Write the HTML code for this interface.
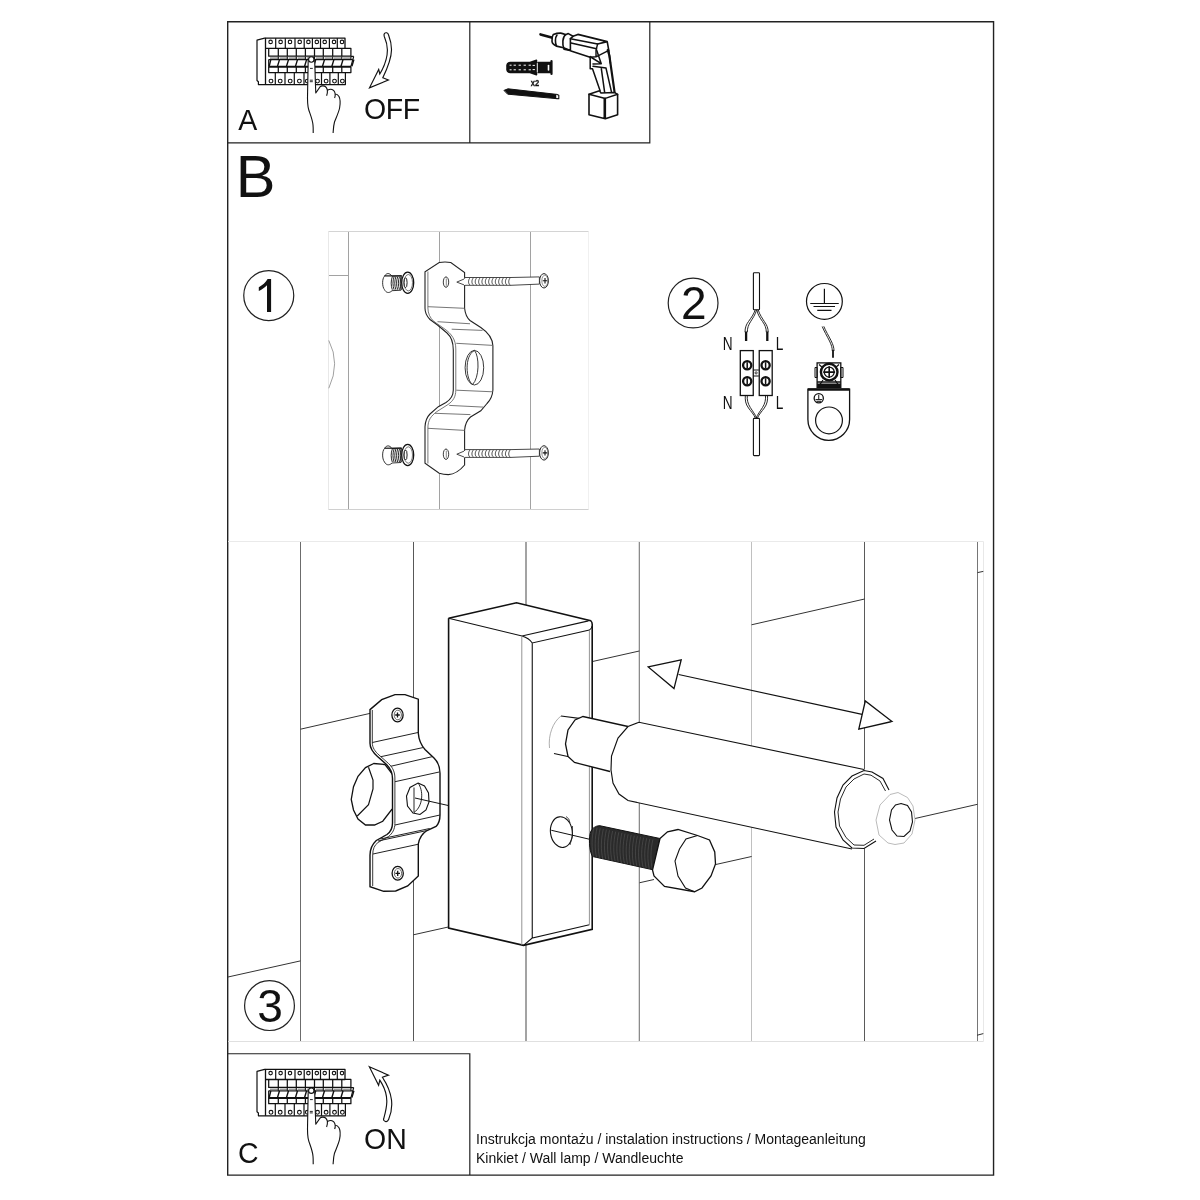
<!DOCTYPE html>
<html><head><meta charset="utf-8">
<style>
html,body{margin:0;padding:0;background:#fff;width:1200px;height:1200px;overflow:hidden}
svg{position:absolute;left:0;top:0}
text{font-family:"Liberation Sans",sans-serif;fill:#111}
svg{will-change:transform}
</style></head><body>
<svg width="1200" height="1200" viewBox="0 0 1200 1200">
<g id="frame" fill="none" stroke="#222" stroke-width="1.4">
<path d="M227.7 21.8H993.55V1175.1H227.7Z"/>
<path d="M227.7 142.85H649.8V21.8M469.8 21.8V142.85" stroke-width="1.2"/>
<path d="M227.7 1053.76H469.82V1175.1" stroke-width="1.2"/>
</g>
<g fill="none" stroke="#222" stroke-width="1.2">
<circle cx="268.75" cy="295.6" r="25"/>
<circle cx="693.1" cy="303" r="24.9"/>
<circle cx="269.5" cy="1005.6" r="24.9"/>
</g>
<path d="M271.1 279.1V312H267V285.3C264.6 287.8 261.6 289.8 258.8 291V287.2C262.5 285.3 265.6 282.6 267.6 279.1Z" fill="#111"/>
<text x="681" y="319.3" font-size="46">2</text>
<text x="257.3" y="1022.2" font-size="46">3</text>
<text x="235.7" y="196.9" font-size="59.5">B</text>
<text transform="translate(238.3 129.8) scale(1 1.06)" font-size="28.5">A</text>
<text transform="translate(364 118.6) scale(1 1.06)" font-size="28.5" letter-spacing="-0.35">OFF</text>
<text transform="translate(238 1162.8) scale(1 1.06)" font-size="28.5">C</text>
<text transform="translate(364 1148.9) scale(1 1.06)" font-size="28.5">ON</text>
<text x="476" y="1143.8" font-size="14">Instrukcja montażu / instalation instructions / Montageanleitung</text>
<text x="476" y="1162.6" font-size="14">Kinkiet / Wall lamp / Wandleuchte</text>

<g id="brk" fill="none" stroke="#111" stroke-width="1.2" stroke-linejoin="round">
<path d="M265.5 38.2H264.6L257 40.2V80.5L258.4 81.8V84.6H345.4V72.5"/>
<path d="M265.5 38.2H345V48.3H265.5ZM265.5 38.2V84.6" stroke-width="1.3"/>
<path d="M275.7 38.2V48.3M285.3 38.2V48.3M295 38.2V48.3M304.2 38.2V48.3M312.4 38.2V48.3M320.5 38.2V48.3M329.4 38.2V48.3M337.3 38.2V48.3M275.3 72.5V84.6M285 72.5V84.6M294.3 72.5V84.6M304 72.5V84.6M312.8 72.5V84.6M321.5 72.5V84.6M329.9 72.5V84.6M338.3 72.5V84.6"/>
<circle cx="270.6" cy="41.9" r="1.75" stroke-width="1.1"/>
<circle cx="280.6" cy="41.9" r="1.75" stroke-width="1.1"/>
<circle cx="290" cy="41.9" r="1.75" stroke-width="1.1"/>
<circle cx="299.7" cy="41.9" r="1.75" stroke-width="1.1"/>
<circle cx="308.4" cy="41.9" r="1.75" stroke-width="1.1"/>
<circle cx="316.8" cy="41.9" r="1.75" stroke-width="1.1"/>
<circle cx="324.7" cy="41.9" r="1.75" stroke-width="1.1"/>
<circle cx="334" cy="41.9" r="1.75" stroke-width="1.1"/>
<circle cx="342" cy="41.9" r="1.75" stroke-width="1.1"/>
<circle cx="271" cy="81.1" r="1.9" stroke-width="1.1"/>
<circle cx="280.2" cy="81.1" r="1.9" stroke-width="1.1"/>
<circle cx="290.2" cy="81.1" r="1.9" stroke-width="1.1"/>
<circle cx="299.4" cy="81.1" r="1.9" stroke-width="1.1"/>
<circle cx="307.3" cy="81.1" r="1.9" stroke-width="1.1"/>
<circle cx="317.5" cy="81.1" r="1.9" stroke-width="1.1"/>
<circle cx="326.1" cy="81.1" r="1.9" stroke-width="1.1"/>
<circle cx="334.5" cy="81.1" r="1.9" stroke-width="1.1"/>
<circle cx="342.4" cy="81.1" r="1.9" stroke-width="1.1"/>
<path d="M268.7 48.3V56.2H350.9V48.3H345M268.7 66.7V72.5H350.9V66.7M278.3 48.3V56.2M278.3 66.7V72.5M287.3 48.3V56.2M287.3 66.7V72.5M296.3 48.3V56.2M296.3 66.7V72.5M305.4 48.3V56.2M305.4 66.7V72.5M314.5 48.3V56.2M314.5 66.7V72.5M323.3 48.3V56.2M323.3 66.7V72.5M332.7 48.3V56.2M332.7 66.7V72.5M341.8 48.3V56.2M341.8 66.7V72.5" stroke-width="1.25"/>
<path d="M268.7 56.9H353.5L352.7 59.8H268.7Z" fill="#fff" stroke="none"/><path d="M268.7 59.7H352.8M350.9 56.4H353.7" stroke-width="1.2"/>
<path d="M270.0 57.3H278.1V59H270.0Z" fill="#999" stroke="none"/><path d="M278.3 56.4V59.6" stroke-width="1.1"/>
<path d="M279.6 57.3H287.1V59H279.6Z" fill="#999" stroke="none"/><path d="M287.3 56.4V59.6" stroke-width="1.1"/>
<path d="M288.6 57.3H296.1V59H288.6Z" fill="#999" stroke="none"/><path d="M296.3 56.4V59.6" stroke-width="1.1"/>
<path d="M297.6 57.3H305.2V59H297.6Z" fill="#999" stroke="none"/><path d="M305.4 56.4V59.6" stroke-width="1.1"/>
<path d="M306.7 57.3H314.3V59H306.7Z" fill="#999" stroke="none"/><path d="M314.5 56.4V59.6" stroke-width="1.1"/>
<path d="M315.8 57.3H323.1V59H315.8Z" fill="#999" stroke="none"/><path d="M323.3 56.4V59.6" stroke-width="1.1"/>
<path d="M324.6 57.3H332.5V59H324.6Z" fill="#999" stroke="none"/><path d="M332.7 56.4V59.6" stroke-width="1.1"/>
<path d="M334.0 57.3H341.6V59H334.0Z" fill="#999" stroke="none"/><path d="M341.8 56.4V59.6" stroke-width="1.1"/>
<path d="M343.1 57.3H350.7V59H343.1Z" fill="#999" stroke="none"/><path d="M350.9 56.4V59.6" stroke-width="1.1"/>
<path d="M268.7 59.5V66.7M353.7 56.5L350.9 66.7"/>
<path d="M268.5 66.8H351" stroke-width="2"/>
<path d="M279.5 59.6L277.5 66.3M288.5 59.6L286.5 66.3M297.5 59.6L295.5 66.3M306.6 59.6L304.6 66.3M315.7 59.6L313.7 66.3M324.5 59.6L322.5 66.3M333.9 59.6L331.9 66.3M343.0 59.6L341.0 66.3M353.9 59.6L351.9 66.3M270.8 59.6L269.2 66.3" stroke-width="1.4"/>
<path d="M308.2 59.8C308 70 307.8 82 307.6 92C307.3 100 307.5 106 308.8 110C310.5 115 312.6 120 313 125C313.3 128 313.2 131 313.2 133H333.1C333.3 130 333.4 126 334.5 122C336 118 338.5 113 339.6 108C340.5 103 340.3 99 339 96.5C337.8 94.5 336 94 335.2 94C334.8 91.5 333 89.5 331 89.3C329.5 89.2 328.3 89.8 327.4 90.3C326.8 87.3 324.5 85.8 322.6 85.9C321.5 86 320.6 86.4 320 86.9L315.8 93C315.3 82 315 70 314.7 59.8Z" fill="#fff" stroke="none"/><path d="M308.2 59.8C308 70 307.8 82 307.6 92C307.3 100 307.5 106 308.8 110C310.5 115 312.6 120 313 125C313.3 128 313.2 131 313.2 133M333.1 133C333.3 130 333.4 126 334.5 122C336 118 338.5 113 339.6 108C340.5 103 340.3 99 339 96.5C337.8 94.5 336 94 335.2 94C334.8 91.5 333 89.5 331 89.3C329.5 89.2 328.3 89.8 327.4 90.3C326.8 87.3 324.5 85.8 322.6 85.9C321.5 86 320.6 86.4 320 86.9L315.8 93C315.3 82 315 70 314.7 59.8" stroke-width="1.1"/>
<path d="M327.4 90.3C327.6 92.5 327.2 94.3 326.6 95.8M335.2 94C335.3 95.5 335.1 97 334.6 97.9" stroke-width="1.1"/>
<circle cx="311.3" cy="59.5" r="2.7" fill="#fff" stroke-width="1.1"/>
<path d="M310 68.4H312.8M309.8 80.2H312.8M309.8 81.7H312.8" stroke-width="0.9"/>
</g>
<use href="#brk" transform="translate(0,1031.2)"/>
<g fill="#fff" stroke="#111" stroke-width="1.15" stroke-linejoin="miter">
<path d="M384.1 34.2C384.5 33 385.8 32.6 386.7 32.8C387.6 33 388.2 33.8 388.5 34.7C390.5 40 391.6 45 391.5 50C391.4 58 387.5 68 382.8 77.8L388.4 80L369.5 87.8L378.7 69.4L379.8 74C384 67 387.4 58 387.4 50C387.4 45 386 40.5 384.3 36.5C384.1 35.8 384 35 384.1 34.2Z"/>
<path d="M369.3 1066.7L388.5 1075.1L382.4 1077.2C387 1084 390.5 1092 391.5 1100C392.3 1107 391 1114 388.6 1119.5C387.8 1121.3 386.8 1121.8 385.9 1121.6C384 1121.3 383.3 1120 383.7 1118.8C385 1114 386.7 1108 386.8 1102C387 1095 385 1088 379.8 1080.1L378.6 1085.3Z"/>
</g>

<g fill="none" stroke="#111" stroke-width="1.5" stroke-linejoin="round" stroke-linecap="round">
<!-- wall plug -->
<path d="M507 67.5C506.5 64 508 62.6 510 62.5H530L536.5 60.2V74.8L530 72.5H510C508 72.4 506.5 71 507 67.5Z" fill="#111"/>
<path d="M538 62.5H551V72.5H538Z" fill="#111"/>
<path d="M551.5 61V74" stroke-width="2.2"/>
<path d="M510 65.2h1.2M514 65.2h1.5M519 65.2h1.5M524 65.2h1.5M529 65.2h1.5M533 65.4h1.5M510 69.8h1.2M514 69.8h1.5M519 69.8h1.5M524 69.8h1.5M529 69.8h1.5M533 69.6h1.5" stroke="#fff" stroke-width="1"/>
<path d="M537.3 63.5V72" stroke="#fff" stroke-width="0.9"/>
<path d="M548.5 65.5V70" stroke="#fff" stroke-width="1.6"/>
<!-- screw -->
<path d="M504.3 90.3L508 88.8L556 94.3V98.6L508 94.2Z" fill="#111" stroke-width="1"/>
<path d="M556.5 94.2L558.8 95.2V98.8L556.5 98.6" fill="#fff" stroke-width="1.1"/>
<!-- drill bit -->
<path d="M540.5 34.4L552.5 37.8" stroke-width="2.6"/>
<!-- chuck -->
<path d="M553.3 34.4C555.5 33.6 558 33 560.8 33.1C562.5 33.3 564 34 565.6 34.7L568.3 33.6L573 36.3L570.4 38.7V50.4L563.5 47.7L556.5 46.1C554 45 552.2 43 552 41.3C551.8 39 552.2 36 553.3 34.4Z" fill="#fff" stroke-width="1.6"/>
<path d="M557 35C555 37.5 555 43 556.5 46.1M565.6 34.7C562.5 37 562 44 564 49.1L569.9 50.4" stroke-width="1.6"/>
<!-- body -->
<path d="M573 36.3L577.9 34.4L607.2 41.6L608.8 50.4L610.4 63.2M570.4 38.7L597.6 44L607.2 41.6M571 43L596.5 48.8M571 51L590.1 57.3M577.9 34.4L604 41" stroke-width="1.6"/>
<path d="M597.6 44L596 50.4V56.8L608.8 50.4M596 56.8L590.1 57.3" stroke-width="1.4"/>
<!-- handle -->
<path d="M590.2 56.4V68.7H592.5L600.1 90.8M590.75 57L601.25 63.7M593 64L601.25 63.7L596.6 50M593 66.3L606 68.1M601.25 68.1L604.75 93.2M606 68.1L611.75 93.2" stroke-width="1.5"/>
<path d="M607.7 50L609.4 55.8L614.7 93.2" stroke-width="2.2"/>
<!-- battery -->
<path d="M589 94.3L599.5 90.8L601 93L614.7 92.6L617.6 94.3L605.3 98.4Z" fill="#fff" stroke-width="1.5"/>
<path d="M589 94.3V114.75L605.3 118.8L617.6 114.75V94.3M605.3 98.4V118.8M604.3 98.6V118.5" stroke-width="1.6"/>
</g>
<text transform="translate(530.7 85.6) scale(0.88 1.05)" font-size="8.6" style="font-family:'Liberation Sans';font-weight:bold" stroke="#111" stroke-width="0.25">x2</text>

<g fill="none" stroke-width="1">
<path d="M328.5 231.5V509.5" stroke="#e8e8e8"/>
<path d="M588.5 231.5V509.5" stroke="#f0f0f0"/>
<path d="M328.5 231.5H588.5" stroke="#d4d4d4"/>
<path d="M328.5 509.5H588.5" stroke="#d0d0d0"/>
<path d="M348.5 232V509M439.5 232V509M530.5 232V509M329 275.5H348.5" stroke="#a2a2a2"/>
<path d="M328.75 340.4Q340.5 363.3 328.75 388.3" stroke="#a0a0a0"/>
</g>
<path d="M425 308.3V271.7L439.2 262.5Q445 261.6 450.8 262.5L464.6 272.5V308.3C465.2 314 466.5 317.5 470 320.5L480.8 327.5C487.5 332 492.5 337 492.9 345.8V390C492.5 396 490.5 400 487 403.5L480.8 410.8L470.5 417C467 420 465.2 424 464.6 430V465C460 470.5 454 474.3 448.3 474.6Q443.5 474.5 439.2 473.3L425 463.3V426.7C425.4 420 427 417 430 414L438.3 406.7L446 402.5C451.5 399 453.3 395 453.3 390V350C453.3 344 451.5 337 447 333L437.5 325L430 319.5C426.5 316 425 312 425 308.3Z" fill="#fff" stroke="#222" stroke-width="1.1"/>
<path d="M427.9 271.5V308C428 313.5 430 318 434 321.5L444 328.5C452 334 455.8 340 455.8 349V390C455.8 397 453 401 448 404.5L437 411.5C431 416 427.9 420 427.9 428V463.5" fill="none" stroke="#555" stroke-width="0.8"/>
<path d="M427.9 306.7L464.6 308.3M437.5 321.7L470 323.75M451.7 329.2L482.5 330.4M456.25 343.3L492.9 345.4M456.25 390.2L492.9 391.8M449.2 405.4L483.3 407.1M435 413.3L470.4 414.6M427.9 428.3L464.6 430.4" fill="none" stroke="#666" stroke-width="0.9"/>
<g fill="#fff" stroke="#222" stroke-width="0.9">
<ellipse cx="446" cy="282.1" rx="2.7" ry="5.2"/><ellipse cx="446" cy="454.2" rx="2.7" ry="5.2"/><path d="M446.3 278.5V285.8M446.3 450.6V457.8" stroke="#555" stroke-width="0.7"/>
<ellipse cx="474.4" cy="367.7" rx="9.3" ry="17.3"/>
<path d="M474.4 350.4C479.5 356 479.5 378 472.5 384.5C466 380 464 356 474.4 350.4" fill="none"/>
</g>
<path d="M456.8 282.1L464.6 278.8V277.5H511L539.4 276.90000000000003V284.1L511 285.3H464.6V285.1Z" fill="#fff" stroke="#333" stroke-width="0.9"/>
<path d="M464.6 278.8V285.1" stroke="#fff" stroke-width="1.2"/>
<path d="M470.1 277.70000000000005C468.0 280.1 468.0 283.6 470.1 285.1M473.5 277.70000000000005C471.4 280.1 471.4 283.6 473.5 285.1M476.8 277.70000000000005C474.7 280.1 474.7 283.6 476.8 285.1M480.2 277.70000000000005C478.1 280.1 478.1 283.6 480.2 285.1M483.5 277.70000000000005C481.4 280.1 481.4 283.6 483.5 285.1M486.9 277.70000000000005C484.8 280.1 484.8 283.6 486.9 285.1M490.2 277.70000000000005C488.1 280.1 488.1 283.6 490.2 285.1M493.6 277.70000000000005C491.4 280.1 491.4 283.6 493.6 285.1M496.9 277.70000000000005C494.8 280.1 494.8 283.6 496.9 285.1M500.2 277.70000000000005C498.1 280.1 498.1 283.6 500.2 285.1M503.6 277.70000000000005C501.5 280.1 501.5 283.6 503.6 285.1M507.0 277.70000000000005C504.9 280.1 504.9 283.6 507.0 285.1M510.3 277.70000000000005C508.2 280.1 508.2 283.6 510.3 285.1" fill="none" stroke="#333" stroke-width="0.9"/>
<ellipse cx="544" cy="280.8" rx="4.4" ry="7.2" fill="#fff" stroke="#222" stroke-width="1"/>
<ellipse cx="544.8" cy="280.8" rx="3" ry="5.6" fill="none" stroke="#666" stroke-width="0.7"/>
<path d="M542.7 280.8H547.3M545 278.1V283.5" stroke="#111" stroke-width="1.1"/>
<path d="M456.8 454.2L464.6 450.9V449.59999999999997H511L539.4 449.0V456.2L511 457.4H464.6V457.2Z" fill="#fff" stroke="#333" stroke-width="0.9"/>
<path d="M464.6 450.9V457.2" stroke="#fff" stroke-width="1.2"/>
<path d="M470.1 449.8C468.0 452.2 468.0 455.7 470.1 457.2M473.5 449.8C471.4 452.2 471.4 455.7 473.5 457.2M476.8 449.8C474.7 452.2 474.7 455.7 476.8 457.2M480.2 449.8C478.1 452.2 478.1 455.7 480.2 457.2M483.5 449.8C481.4 452.2 481.4 455.7 483.5 457.2M486.9 449.8C484.8 452.2 484.8 455.7 486.9 457.2M490.2 449.8C488.1 452.2 488.1 455.7 490.2 457.2M493.6 449.8C491.4 452.2 491.4 455.7 493.6 457.2M496.9 449.8C494.8 452.2 494.8 455.7 496.9 457.2M500.2 449.8C498.1 452.2 498.1 455.7 500.2 457.2M503.6 449.8C501.5 452.2 501.5 455.7 503.6 457.2M507.0 449.8C504.9 452.2 504.9 455.7 507.0 457.2M510.3 449.8C508.2 452.2 508.2 455.7 510.3 457.2" fill="none" stroke="#333" stroke-width="0.9"/>
<ellipse cx="544" cy="452.9" rx="4.4" ry="7.2" fill="#fff" stroke="#222" stroke-width="1"/>
<ellipse cx="544.8" cy="452.9" rx="3" ry="5.6" fill="none" stroke="#666" stroke-width="0.7"/>
<path d="M542.7 452.9H547.3M545 450.2V455.59999999999997" stroke="#111" stroke-width="1.1"/>
<path d="M384.5 276.2C382 278.7 382 286.7 384.5 289.7 C386 292.7 389 293.7 392 290.7 L401 290.2V275.7L392 276.2C389.5 272.7 386.5 272.7 384.5 276.2Z" fill="#fff" stroke="#333" stroke-width="1"/>
<path d="M384.5 275.9H402" stroke="#111" stroke-width="1.2"/>
<path d="M392.3 276.7C390.8 280.7 390.8 285.7 392.3 289.7M394.1 276.7C392.6 280.7 392.6 285.7 394.1 289.7M395.9 276.7C394.4 280.7 394.4 285.7 395.9 289.7M397.7 276.7C396.2 280.7 396.2 285.7 397.7 289.7M399.5 276.7C398.0 280.7 398.0 285.7 399.5 289.7M401.3 276.7C399.8 280.7 399.8 285.7 401.3 289.7" fill="none" stroke="#111" stroke-width="0.9"/>
<ellipse cx="407.7" cy="282.7" rx="6" ry="10.6" fill="#fff" stroke="#111" stroke-width="1.3"/>
<ellipse cx="408.3" cy="282.7" rx="4.2" ry="8.2" fill="none" stroke="#555" stroke-width="0.8"/>
<ellipse cx="405.5" cy="282.7" rx="1.6" ry="5" fill="none" stroke="#222" stroke-width="1"/>
<path d="M384.5 448.5C382 451 382 459 384.5 462 C386 465 389 466 392 463 L401 462.5V448L392 448.5C389.5 445 386.5 445 384.5 448.5Z" fill="#fff" stroke="#333" stroke-width="1"/>
<path d="M384.5 448.2H402" stroke="#111" stroke-width="1.2"/>
<path d="M392.3 449C390.8 453 390.8 458 392.3 462M394.1 449C392.6 453 392.6 458 394.1 462M395.9 449C394.4 453 394.4 458 395.9 462M397.7 449C396.2 453 396.2 458 397.7 462M399.5 449C398.0 453 398.0 458 399.5 462M401.3 449C399.8 453 399.8 458 401.3 462" fill="none" stroke="#111" stroke-width="0.9"/>
<ellipse cx="407.7" cy="455" rx="6" ry="10.6" fill="#fff" stroke="#111" stroke-width="1.3"/>
<ellipse cx="408.3" cy="455" rx="4.2" ry="8.2" fill="none" stroke="#555" stroke-width="0.8"/>
<ellipse cx="405.5" cy="455" rx="1.6" ry="5" fill="none" stroke="#222" stroke-width="1"/>
<g fill="none" stroke="#111" stroke-width="1.1">
<!-- top cable -->
<rect x="753.4" y="272.8" width="6.1" height="36.9" rx="0.8" fill="#fff"/>
<path d="M755.2 309.8C754 314 751 318 748.5 321.5C746.3 324.5 745 327.5 745 332.2M756.6 309.8C755.5 314.5 752.5 318.5 750.5 321.8C748.5 325 747.3 328 747.3 332.2" stroke-width="0.9"/>
<path d="M756.8 309.8C757.5 314 760 318 762.5 321.5C765 325 766.3 328 766.3 332.2M758.2 309.8C759.5 314.5 762.5 318.5 764.5 321.8C766.8 325 768.2 328 768.2 332.2" stroke-width="0.9"/>
<path d="M746.1 331.5V341M767.3 331.5V341" stroke-width="2.3"/>
<!-- terminal block -->
<rect x="740.3" y="350.6" width="12.95" height="44.9" stroke-width="1.3"/>
<rect x="759.25" y="350.6" width="12.95" height="44.9" stroke-width="1.3"/>
<g stroke-width="2.3"><circle cx="747.2" cy="365.3" r="4.1"/><circle cx="747.2" cy="381.25" r="4.1"/><circle cx="765.6" cy="365.3" r="4.1"/><circle cx="765.6" cy="381.25" r="4.1"/></g>
<path d="M747.2 362.2V368.4M747.2 378.2V384.4M765.6 362.2V368.4M765.6 378.2V384.4" stroke-width="1.5"/>
<path d="M753.3 370H758.8M753.3 376H758.8" stroke-width="1"/>
<circle cx="756.1" cy="372.9" r="1.1" stroke-width="0.8"/>
<!-- bottom cable -->
<path d="M745.3 395.6C745 400 745.5 404 748.5 408C751 411.5 754 414.5 755.5 418.4M747.3 395.6C747 400 747.8 403.5 750.3 407.5C752.5 411 755.3 414.5 756.8 418.4" stroke-width="0.9"/>
<path d="M767.5 395.6C767.8 400 767.3 404 764.3 408C761.8 411.5 758.8 414.5 757.3 418.4M765.5 395.6C765.8 400 765 403.5 762.5 407.5C760.3 411 757.5 414.5 756 418.4" stroke-width="0.9"/>
<rect x="753.4" y="418.4" width="6.1" height="37.2" rx="0.8" fill="#fff"/>
<!-- ground symbol -->
<circle cx="824.4" cy="301.4" r="17.9" stroke-width="1.2"/>
<path d="M824.4 288.75V303.5M810.25 303.5H838.75M813.5 306.5H835M817.25 310.4H831.5" stroke-width="1.2"/>
<!-- ground wire -->
<path d="M822.2 326.5C824 331 827 336 829.5 341C831.5 345 832.3 348 832.3 351M823.8 326.3C825.6 331 828.6 335.6 831 340.5C833 344.5 834 347.5 834 351" stroke-width="0.9"/>
<path d="M833 350V357.8" stroke-width="1.8"/>
<!-- lug -->
<path d="M807.9 389.2H849.6V419.5A20.85 20.85 0 0 1 807.9 419.5Z" fill="#fff" stroke-width="1.3"/>
<path d="M807.9 389.5H849.6" stroke-width="2.6"/>
<circle cx="829" cy="420.4" r="13.4" stroke-width="1.2"/>
<circle cx="818.75" cy="398.3" r="4.6" stroke-width="1.3"/>
<path d="M818.75 394.8V399.3M815.5 399.6H822M816.5 401.3H821" stroke-width="1"/>
<rect x="817.1" y="362.9" width="23.7" height="24.6" stroke-width="1.3" fill="#fff"/>
<path d="M815 367.5H817.1V377.5H815ZM840.8 367.5H843V377.5H840.8Z" stroke-width="1"/>
<path d="M817.1 382H840.8M817.1 384.3H840.8" stroke-width="1.4"/>
<path d="M817.1 386.2H840.8" stroke-width="2.5"/>
<circle cx="829.2" cy="372.1" r="8.3" stroke-width="2.4"/>
<circle cx="829.2" cy="372.1" r="5" stroke-width="1.3"/>
<path d="M829.2 366.2V378M823.3 372.1H835.1" stroke-width="1.6"/>
<path d="M819 364.5L823 368M839 364.5L835 368M819 385.8L823 380M839 385.8L835 380" stroke-width="1.2"/>
</g>
<g fill="#222" style="font-family:'Liberation Sans'" font-size="17.5">
<text transform="translate(722.8 350) scale(0.78 1)">N</text>
<text transform="translate(775.8 350) scale(0.78 1)">L</text>
<text transform="translate(722.8 408.5) scale(0.78 1)">N</text>
<text transform="translate(775.8 408.5) scale(0.78 1)">L</text>
</g>

<g fill="none" stroke-width="1">
<path d="M228 541.5H983.5" stroke="#eaeaea"/>
<path d="M228 1041.5H983.5" stroke="#e0e0e0"/>
<path d="M983.5 541.5V1041.5" stroke="#e8e8e8"/>
<path d="M300.5 542V1041" stroke="#6c6c6c"/>
<path d="M413.5 542V1041" stroke="#585858"/>
<path d="M526 542V1041" stroke="#666" stroke-width="1.2"/>
<path d="M639.3 542V1041" stroke="#777" stroke-width="1.1"/>
<path d="M751.5 542V1041" stroke="#c0c0c0"/>
<path d="M864.5 542V1041" stroke="#5a5a5a"/>
<path d="M977.5 542V1041" stroke="#767676"/>
<path d="M300.5 729.2L413.5 703.5M228 977L300.4 960.9M413.4 934.8L448.3 927M592.5 661.5L639.3 651M751.5 624.8L864.6 599M977.5 572.6L983.3 571.4M639.5 882.75L654 879.5M715.4 864.6L751.6 856.5M915 818.5L977.5 804.3M977 1035.25L983.3 1033.6" stroke="#333"/>
</g>
<path d="M448.6 618.3L516.5 602.75L590.75 620.75Q592.5 622 592.2 626V929.4L523.5 945.4L448.6 928Z" fill="#fff" stroke="none"/>
<g fill="none" stroke="#111">
<path d="M448.6 618.3L516.5 602.75L590.75 620.75Q592.6 622.3 592.2 626V929.4L523.5 945.4L448.6 928V618.3" stroke-width="1.6"/>
<path d="M448.6 618.3L522 636L588.5 620.9M522 636Q529 638 532.25 643L589.4 630.1Q591.8 628.5 592.2 626M532.25 643V938L589.4 924.8M523.5 945.4L532.25 938" stroke-width="1.1"/>
<path d="M521.8 636V945" stroke="#888" stroke-width="0.9"/>
<path d="M589.4 630.1V924.8" stroke="#888" stroke-width="0.9"/>
</g>
<ellipse cx="561.4" cy="832.1" rx="10.9" ry="15.4" transform="rotate(-8 561.4 832.1)" fill="#fff" stroke="#111" stroke-width="1.1"/>
<path d="M566 816.5Q569.5 818 570 823M570 845Q573.5 836 572.5 826" fill="none" stroke="#222" stroke-width="0.8"/>
<path d="M551.25 830.25L589.5 839.25" stroke="#111" stroke-width="1"/>
<path d="M561.00 716.00 L583.00 718.50 L583.00 760.00 L568.00 756.50 L554.00 753.50 L549.50 748.00 L549.00 732.00Z" fill="#fff" stroke="none"/>
<path d="M561 716L583 718.8M554 753.5L570 757" fill="none" stroke="#111" stroke-width="1.2"/>
<path d="M561 716C553 722 548 735 549.5 748" fill="none" stroke="#999" stroke-width="0.8"/>
<path d="M583.00 716.50 L628.00 726.50 L628.00 800.00 L610.00 771.50 L574.50 762.50 L568.00 756.50 L565.50 744.00 L568.00 730.00 L575.00 720.00Z" fill="#fff" stroke="none"/>
<path d="M628 726.5L583 716.5L575 720L568 730L565.5 744L568 756.5L574.5 762.5L610 771.5" fill="none" stroke="#111" stroke-width="1.3"/>
<path d="M639.00 722.50 L864.00 769.50 L872.00 772.00 L883.00 778.50 L889.00 790.00 L892.00 815.00 L876.00 841.00 L864.00 848.50 L852.00 849.00 L628.00 800.50 L619.00 794.00 L613.00 783.00 L611.00 770.00 L611.50 756.00 L618.00 738.00 L628.00 726.50Z" fill="#fff" stroke="none"/>
<path d="M864 769.5L639 722.3L628 726.5L618 738L611.5 756L611 770L613 783L619 794L628 800.5L852 849" fill="none" stroke="#111" stroke-width="1.15"/>
<path d="M889.00 790.00 L883.00 778.50 L872.00 772.00 L864.00 770.50 L852.00 776.00 L843.00 785.00 L837.00 798.00 L834.50 812.00 L836.00 827.00 L843.00 840.00 L852.00 848.00 L864.00 848.50 L876.00 841.00" fill="none" stroke="#111" stroke-width="1.1"/>
<path d="M885.50 791.00 L880.00 781.00 L871.00 775.20 L864.00 774.00 L854.00 779.00 L846.00 787.00 L840.50 799.00 L838.00 812.00 L839.50 826.00 L846.00 837.50 L854.00 845.00 L864.00 845.30 L874.00 839.00" fill="none" stroke="#111" stroke-width="0.9"/>
<path d="M898.00 792.50 L907.50 797.50 L913.00 806.00 L915.00 820.00 L912.00 834.00 L904.00 843.00 L895.00 844.50 L888.00 843.00 L879.00 835.00 L876.00 820.00 L880.00 805.00 L890.00 794.50Z" fill="#fff" stroke="#aaa" stroke-width="0.8"/>
<path d="M901.00 803.50 L907.50 805.50 L911.50 812.00 L912.50 822.00 L910.00 831.00 L904.00 836.50 L897.00 836.00 L892.00 830.00 L889.50 820.00 L891.50 810.00 L895.50 805.00Z" fill="#fff" stroke="#111" stroke-width="1.1"/>
<path d="M600 825.75L660 838.5L654 870L592.5 856.5C589 851 588.5 836 591 831C593.5 827 597 825.5 600 825.75Z" fill="#2a2a2a" stroke="#111" stroke-width="1"/>
<path d="M594.0 827.0C591.5 838.0 591.5 848.0 593.5 857.0M597.1 827.7C594.6 838.7 594.6 848.7 596.6 857.7M600.2 828.3C597.7 839.3 597.7 849.3 599.7 858.3M603.3 829.0C600.8 840.0 600.8 850.0 602.8 859.0M606.4 829.6C603.9 840.6 603.9 850.6 605.9 859.6M609.5 830.3C607.0 841.3 607.0 851.3 609.0 860.3M612.6 831.0C610.1 842.0 610.1 852.0 612.1 861.0M615.7 831.6C613.2 842.6 613.2 852.6 615.2 861.6M618.8 832.3C616.3 843.3 616.3 853.3 618.3 862.3M621.9 832.9C619.4 843.9 619.4 853.9 621.4 862.9M625.0 833.6C622.5 844.6 622.5 854.6 624.5 863.6M628.1 834.3C625.6 845.3 625.6 855.3 627.6 864.3M631.2 834.9C628.7 845.9 628.7 855.9 630.7 864.9M634.3 835.6C631.8 846.6 631.8 856.6 633.8 865.6M637.4 836.2C634.9 847.2 634.9 857.2 636.9 866.2M640.5 836.9C638.0 847.9 638.0 857.9 640.0 866.9M643.6 837.6C641.1 848.6 641.1 858.6 643.1 867.6M646.7 838.2C644.2 849.2 644.2 859.2 646.2 868.2M649.8 838.9C647.3 849.9 647.3 859.9 649.3 868.9M652.9 839.5C650.4 850.5 650.4 860.5 652.4 869.5" fill="none" stroke="#555" stroke-width="0.6"/>
<path d="M660.00 838.50 L667.50 831.75 L678.00 829.50 L697.50 835.50 L709.50 840.00 L714.75 852.00 L715.50 864.00 L711.00 876.00 L702.00 888.00 L694.50 891.75 L664.50 886.50 L654.00 876.00 L652.50 870.00Z" fill="#fff" stroke="#111" stroke-width="1.3"/>
<path d="M697.50 835.50 L686.00 839.00 L679.50 849.00 L675.00 861.00 L678.00 876.00 L685.50 888.00 L694.50 891.75" fill="none" stroke="#111" stroke-width="1.1"/>
<path d="M373.75 763.50 L365.50 767.60 L358.00 776.25 L353.50 786.75 L351.25 799.50 L353.50 810.00 L358.00 819.00 L365.50 825.00 L374.50 825.00 L382.75 821.25 L391.75 809.50 L397.00 806.00 L397.00 780.00 L385.00 764.50Z" fill="#fff" stroke="#111" stroke-width="1.3"/>
<path d="M368.5 767.25L373 780L373 789L368.5 804.75L357.25 816" fill="none" stroke="#111" stroke-width="1.2"/>
<path d="M370.00 709.60 L381.70 699.60 L395.00 694.60 L405.00 694.60 L418.30 699.20 L418.30 733.30C418.8 740 421 745 425 749.5L434 758C438 762 440 767 440 773.3V815C440 820 438.5 824 436 826.5L427 830.5C423 833 419.5 837 418.3 844V876L407.7 886L395.7 891L383.7 891.3L370 886.7V855.3C370 849 372.5 844 376.3 840.5L387 834.5C390.5 832 392.5 828 392.5 823V778.5C392.5 773 390 768 386.5 764.5L377.5 756.5C373 752.5 370 748 370 743.3Z" fill="#fff" stroke="#111" stroke-width="1.4"/>
<path d="M372.3 710V743C372.3 747.5 375 751.5 379 755L388.5 763.5C393 767.5 394.9 772.5 394.9 778V823.5C394.9 829 392.5 833.5 388.5 836.5L378 842.5C374.5 845 372.7 849 372.7 855V886" fill="none" stroke="#222" stroke-width="0.9"/>
<path d="M372.3 742.5L418 732.5M380.8 756.7L423.3 747.5M390.8 766.25L432.1 756.7M395 781.7L439.2 772M395 825L440 815M378 841L427 830.5M380.5 839L429.7 828.5M373 854L418 844.3" fill="none" stroke="#222" stroke-width="1"/>
<path d="M418.00 783.00 L424.50 786.00 L428.50 793.00 L429.00 802.00 L426.00 810.00 L420.00 814.50 L413.00 813.00 L407.50 806.00 L406.50 796.00 L410.00 787.50Z" fill="#fff" stroke="#111" stroke-width="1.1"/>
<path d="M414 787.5V812.5M418 783C423.5 790 423.5 806 414 812.5" fill="none" stroke="#111" stroke-width="0.9"/>
<path d="M415 798L448.25 805.5" stroke="#111" stroke-width="1"/>
<ellipse cx="397.5" cy="715" rx="5.6" ry="6.9" fill="#fff" stroke="#111" stroke-width="1.3"/>
<ellipse cx="397.8" cy="715" rx="3.6" ry="4.8" fill="none" stroke="#444" stroke-width="0.8"/>
<path d="M395.2 715H399.8M397.5 712.4V717.6" stroke="#111" stroke-width="1.3"/>
<ellipse cx="397.7" cy="873.3" rx="5.6" ry="6.9" fill="#fff" stroke="#111" stroke-width="1.3"/>
<ellipse cx="398.0" cy="873.3" rx="3.6" ry="4.8" fill="none" stroke="#444" stroke-width="0.8"/>
<path d="M395.4 873.3H400.0M397.7 870.6999999999999V875.9" stroke="#111" stroke-width="1.3"/>
<path d="M678.6 674.5L862.1 714.4" stroke="#111" stroke-width="1.2"/>
<path d="M648.2 666.9L681.2 659.75L674 688.6Z M892 721.5L865.3 701L858.8 729.1Z" fill="#fff" stroke="#111" stroke-width="1.3" stroke-linejoin="miter"/>
</svg>
</body></html>
